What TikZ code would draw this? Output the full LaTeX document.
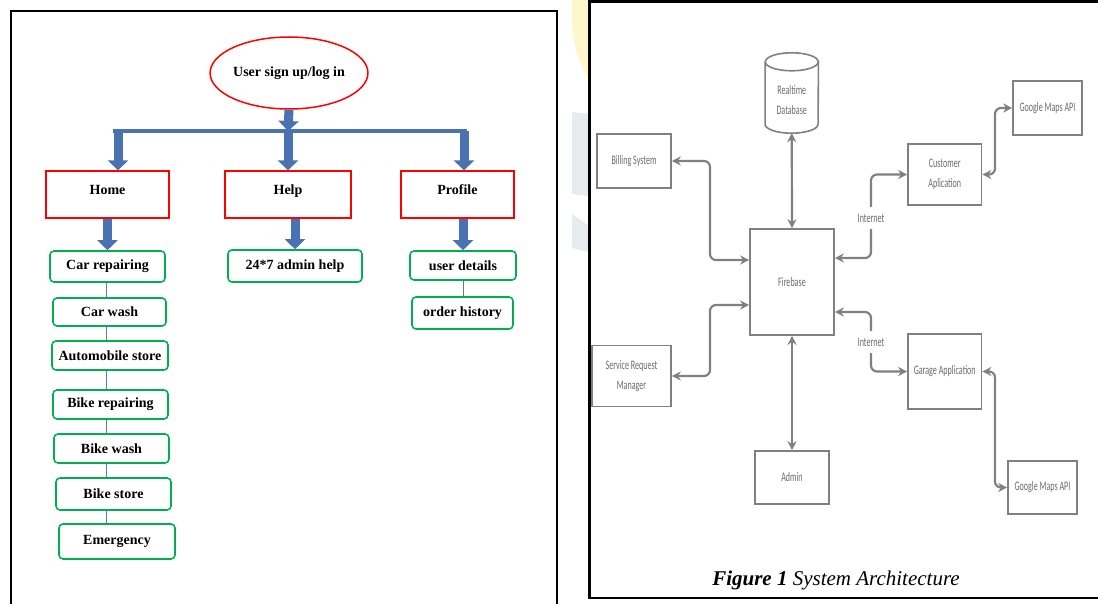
\documentclass[tikz,border=0pt]{standalone}
\usepackage{fontspec}
\setmainfont{Liberation Serif}
\newfontfamily\archfont[FakeStretch=0.62]{Carlito}
\usetikzlibrary{arrows.meta,shapes.geometric}

\definecolor{blockblue}{HTML}{4A72B2}
\definecolor{linkblue}{HTML}{4A7FD0}
\definecolor{boxgreen}{HTML}{00B050}
\definecolor{archgray}{HTML}{808080}
\definecolor{archtext}{HTML}{6A6A6A}
\definecolor{wmyellow}{HTML}{FFF6CC}
\definecolor{wmgray}{HTML}{E6EBEF}

\tikzset{
  menu/.style={draw=red, line width=1.3pt, inner sep=0pt,
    font=\fontsize{14}{16}\selectfont\bfseries, text height=10pt, text depth=10pt},
  item/.style={draw=boxgreen, line width=1.6pt, rounded corners=4pt, inner sep=0pt,
    font=\fontsize{14}{16}\selectfont\bfseries},
  blockarrow/.style={blockblue, line width=9pt, -{Triangle[length=10pt,width=20pt]}},
  thinlink/.style={linkblue, line width=0.8pt},
  part/.style={draw=archgray, line width=1.6pt, inner sep=0pt, text=archtext,
    font=\archfont\fontsize{13}{20}\selectfont, align=center},
  dbase/.style={inner sep=0pt, text=archtext, font=\archfont\fontsize{13}{20}\selectfont, align=center},
  netlabel/.style={fill=white, inner xsep=2pt, inner ysep=7pt, text=archtext,
    font=\archfont\fontsize{13}{15}\selectfont},
  link/.style={archgray, line width=2.2pt, rounded corners=6pt,
    {Stealth[length=9pt,width=9pt]}-{Stealth[length=9pt,width=9pt]}},
}

\begin{document}
\begin{tikzpicture}[x=1pt,y=-1pt]
\useasboundingbox (0,0) rectangle (1098,604);

% faint watermark showing between the two panels
\fill[wmyellow] (572,0) -- (589,0) -- (589,80) .. controls (578,62) and (572,40) .. (572,18) -- cycle;
\fill[wmgray] (572,112) -- (589,114) -- (589,196) -- (572,194) -- cycle;
\fill[wmgray] (572,214) -- (589,226) -- (589,252) -- (572,248) -- cycle;

% panel frames
\draw[line width=2pt] (11,604) -- (11,11) -- (557,11) -- (557,604);
\draw[line width=2.5pt] (1098,1.5) -- (589.5,1.5) -- (589.5,598) -- (1098,598);

%%% left panel: the menu tree of the app
\node[ellipse, draw=red, line width=1.5pt, inner sep=0pt, minimum width=142pt, minimum height=72pt,
  font=\fontsize{14}{16}\selectfont\bfseries] (login) at (289,73) {User sign up/log in};

\node[menu, minimum width=123pt, minimum height=47pt] (home) at (107.5,194.5) {Home};
\node[menu, minimum width=126pt, minimum height=47pt] (help) at (288,194.5) {Help};
\node[menu, minimum width=113pt, minimum height=47pt] (prof) at (457.5,194.5) {Profile};

% items under Home
\node[item, minimum width=115pt, minimum height=31pt] (carrep) at (107.5,266.5) {Car repairing};
\node[item, minimum width=113pt, minimum height=28pt] (carwash) at (109.5,312) {Car wash};
\node[item, minimum width=116pt, minimum height=29pt] (autost) at (110,355.5) {Automobile store};
\node[item, minimum width=115pt, minimum height=29pt] (bikerep) at (110.5,404.5) {Bike repairing};
\node[item, minimum width=115pt, minimum height=29pt] (bikewash) at (111.5,448.5) {Bike wash};
\node[item, minimum width=115pt, minimum height=32pt] (bikest) at (113.5,494) {Bike store};
\node[item, minimum width=116pt, minimum height=35pt] (emerg) at (117,541.5) {Emergency};
% items under Help and Profile
\node[item, minimum width=134pt, minimum height=32pt] (adm) at (295,266) {24*7 admin help};
\node[item, minimum width=106pt, minimum height=29pt] (udet) at (463,265.5) {user details};
\node[item, minimum width=101pt, minimum height=32pt] (ordh) at (462.5,313) {order history};

% block arrows and the bar
\coordinate (bar) at (288,131);
\coordinate (barL) at (113,131);
\coordinate (barR) at (467,131);
\coordinate (tHome) at (118,131);
\coordinate (tProf) at (464,131);
\draw[blockarrow] (login.south) -- (bar);
\draw[blockarrow] (tHome) -- (tHome |- home.north);
\draw[blockarrow] (bar) -- (help.north);
\draw[blockarrow] (tProf) -- (tProf |- prof.north);
\draw[blockblue, line width=4.5pt] (barL) -- (barR);
\draw[blockarrow] (home.south) -- (carrep.north);
\draw[blockarrow] (adm.north |- help.south) -- (adm.north);
\draw[blockarrow] (udet.north |- prof.south) -- (udet.north);

% thin links down the lists
\coordinate (spine) at (106,0);
\foreach \a/\b in {carrep/carwash, carwash/autost, autost/bikerep, bikerep/bikewash, bikewash/bikest, bikest/emerg}
  \draw[thinlink] (spine |- \a.south) -- (spine |- \b.north);
\draw[thinlink] (udet.south) -- (udet.south |- ordh.north);

%%% right panel: system architecture
\node[dbase, minimum width=53pt, minimum height=66pt] (db) at (791.75,100) {Realtime\\Database};
\draw[archgray, line width=1.6pt] ([yshift=5pt]db.north) ellipse[x radius=26.5pt, y radius=9pt];
\draw[archgray, line width=1.6pt] ([yshift=5pt]db.north west) -- ([yshift=9pt]db.south west)
  arc[start angle=180, end angle=360, x radius=26.5pt, y radius=9pt] -- ([yshift=5pt]db.north east);

\node[part, minimum width=84pt, minimum height=106pt] (fire) at (792,282) {Firebase};
\node[part, minimum width=74pt, minimum height=54pt] (bill) at (634,161) {Billing System};
\node[part, minimum width=79pt, minimum height=61pt] (srm) at (631.5,376) {Service Request\\Manager};
\node[part, minimum width=74pt, minimum height=53pt] (admin) at (792,477.5) {Admin};
\node[part, minimum width=73.5pt, minimum height=61pt] (cust) at (944.75,174.5) {Customer\\Aplication};
\node[part, minimum width=73.5pt, minimum height=75pt] (gar) at (944.75,371.5) {Garage Application};
\node[part, minimum width=69pt, minimum height=54pt] (gm1) at (1047.5,108) {Google Maps API};
\node[part, minimum width=69pt, minimum height=53pt] (gm2) at (1042.5,487.5) {Google Maps API};

\coordinate (lx) at (710,0);
\coordinate (ix) at (871,0);
\coordinate (gx) at (995,0);
\coordinate (fbA) at ([yshift=22pt]fire.west);
\coordinate (fbB) at ([yshift=-23pt]fire.west);
\coordinate (fbC) at ([yshift=24pt]fire.east);
\coordinate (fbD) at ([yshift=-30pt]fire.east);

\draw[link] (db.south) -- (fire.north);
\draw[link] (fire.south) -- (admin.north);
\draw[link] (bill.east) -| (lx |- fbA) -- (fbA);
\draw[link] (fbB) -| (lx |- srm.east) -- (srm.east);
\draw[link] (fbC) -| (ix |- cust.west) -- (cust.west);
\draw[link] (fbD) -| (ix |- gar.west) -- (gar.west);
\draw[link] (cust.east) -| (gx |- gm1.west) -- (gm1.west);
\draw[link] (gar.east) -| (gx |- gm2.west) -- (gm2.west);

\node[netlabel] (net1) at (871,218) {Internet};
\node[netlabel] (net2) at (871,342) {Internet};

\node[font=\fontsize{21}{24}\selectfont\itshape] (cap) at (836,580) {\textbf{Figure 1} System Architecture};
\end{tikzpicture}
\end{document}
